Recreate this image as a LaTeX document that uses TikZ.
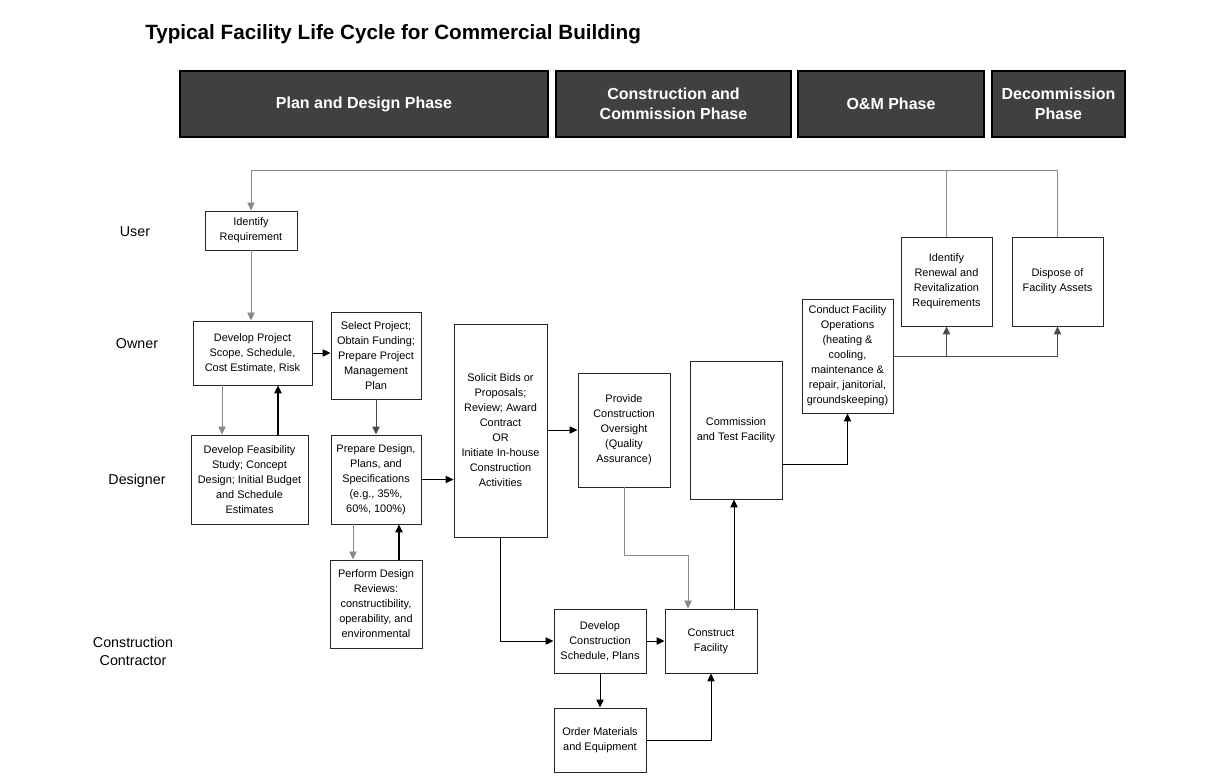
\documentclass[tikz,border=0pt]{standalone}
\usepackage{fontspec}
\setmainfont{Liberation Sans}
\usetikzlibrary{arrows.meta}
\definecolor{phasegray}{HTML}{404040}
\definecolor{linegray}{HTML}{8A8A8A}
\begin{document}
\begin{tikzpicture}[x=0.75pt,y=-0.75pt,
  sz/.style 2 args={minimum width=#1*0.75pt,minimum height=#2*0.75pt},
  box/.style={draw=black!85, line width=0.7pt, fill=white, inner sep=0pt, align=center, font=\fontsize{8.2}{11.25}\selectfont},
  phase/.style={draw=black, line width=0.9pt, fill=phasegray, text=white, inner sep=0pt, align=center, font=\fontsize{12}{15}\selectfont\bfseries},
  lane/.style={font=\fontsize{10.7}{13.5}\selectfont, align=center, inner sep=0pt},
  gline/.style={draw=linegray, line width=0.6pt},
  bline/.style={draw=black, line width=0.75pt},
  tip/.style={-{Triangle[length=6pt,width=5.5pt]}},
]
\useasboundingbox[fill=white] (0,0) rectangle (1208,782);

\node[anchor=west, font=\fontsize{15.5}{18}\selectfont\bfseries, inner sep=0pt] (title) at (145,34) {Typical Facility Life Cycle for Commercial Building};

\node[phase, sz={368}{66}] (p1) at (364,104) {Plan and Design Phase};
\node[phase, sz={235}{66}] (p2) at (673.5,104) {Construction and\\Commission Phase};
\node[phase, sz={186}{66}] (p3) at (891,104) {O\&M Phase};
\node[phase, sz={133}{66}] (p4) at (1058.5,104) {Decommission\\Phase};

\node[lane] (lu) at (135,232) {User};
\node[lane] (lo) at (137,344) {Owner};
\node[lane] (ld) at (137,481) {Designer};
\node[lane] (lc) at (133,651) {Construction\\Contractor};

\node[box, sz={92}{39}] (req) at (251,230.5) {Identify\\Requirement};
\node[box, sz={119}{64}] (scope) at (252.5,353) {Develop Project\\Scope, Schedule,\\Cost Estimate, Risk};
\node[box, sz={90}{87}] (select) at (376,355.5) {Select Project;\\Obtain Funding;\\Prepare Project\\Management\\Plan};
\node[box, sz={117}{89}] (feas) at (249.5,479.5) {Develop Feasibility\\Study; Concept\\Design; Initial Budget\\and Schedule\\Estimates};
\node[box, sz={90}{89}] (prep) at (376,479.5) {Prepare Design,\\Plans, and\\Specifications\\(e.g., 35\%,\\60\%, 100\%)};
\node[box, sz={92}{88}] (rev) at (376,604) {Perform Design\\Reviews:\\constructibility,\\operability, and\\environmental};
\node[box, sz={93}{213}] (sol) at (500.5,430.5) {Solicit Bids or\\Proposals;\\Review; Award\\Contract\\OR\\Initiate In-house\\Construction\\Activities};
\node[box, sz={92}{114}] (ovs) at (624,430) {Provide\\Construction\\Oversight\\(Quality\\Assurance)};
\node[box, sz={92}{138}] (com) at (736,430) {Commission\\and Test Facility};
\node[box, sz={91}{114}] (ops) at (847.5,356) {Conduct Facility\\Operations\\(heating \&\\cooling,\\maintenance \&\\repair, janitorial,\\groundskeeping)};
\node[box, sz={91}{89}] (ren) at (946.5,281.5) {Identify\\Renewal and\\Revitalization\\Requirements};
\node[box, sz={91}{89}] (dis) at (1057.5,281.5) {Dispose of\\Facility Assets};
\node[box, sz={92}{64}] (dev) at (600,641) {Develop\\Construction\\Schedule, Plans};
\node[box, sz={92}{64}] (cons) at (711,641) {Construct\\Facility};
\node[box, sz={92}{64}] (ord) at (600,740) {Order Materials\\and Equipment};

\coordinate (toprow) at (0,170);
\coordinate (xa) at (222,0);
\coordinate (xb) at (278,0);
\coordinate (xc) at (353,0);
\coordinate (xd) at (399,0);
\coordinate (ye) at (0,555);
\coordinate (xf) at (688,0);
\coordinate (xg) at (734,0);
\coordinate (yh) at (0,464);

\draw[gline] (ren.north) -- (ren.north |- toprow);
\draw[gline,tip] (dis.north) -- (dis.north |- toprow) -- (req.north |- toprow) -- (req.north);
\draw[gline,tip] (req.south) -- (req.south |- scope.north);
\draw[bline,tip] (scope.east) -- (scope.east -| select.west);
\draw[gline,tip] (scope.south -| xa) -- (feas.north -| xa);
\draw[bline,line width=1.1pt,tip] (feas.north -| xb) -- (scope.south -| xb);
\draw[bline,draw=black!70,tip] (select.south) -- (prep.north);
\draw[gline,tip] (prep.south -| xc) -- (rev.north -| xc);
\draw[bline,line width=1.1pt,tip] (rev.north -| xd) -- (prep.south -| xd);
\draw[bline,tip] (prep.east) -- (prep.east -| sol.west);
\draw[bline,tip] (sol.east |- ovs.west) -- (ovs.west);
\draw[bline,tip] (sol.south) |- (dev.west);
\draw[gline,tip] (ovs.south) -- (ovs.south |- ye) -- (xf |- ye) -- (cons.north -| xf);
\draw[bline,tip] (cons.north -| xg) -- (com.south -| xg);
\draw[bline,tip] (dev.east) -- (cons.west);
\draw[bline,tip] (dev.south) -- (ord.north);
\draw[bline,tip] (ord.east) -| (cons.south);
\draw[bline,tip] (com.east |- yh) -| (ops.south);
\draw[bline,draw=black!70,tip] (ops.east) -| (dis.south);
\draw[bline,draw=black!70,tip] (ren.south |- ops.east) -- (ren.south);
\end{tikzpicture}
\end{document}
